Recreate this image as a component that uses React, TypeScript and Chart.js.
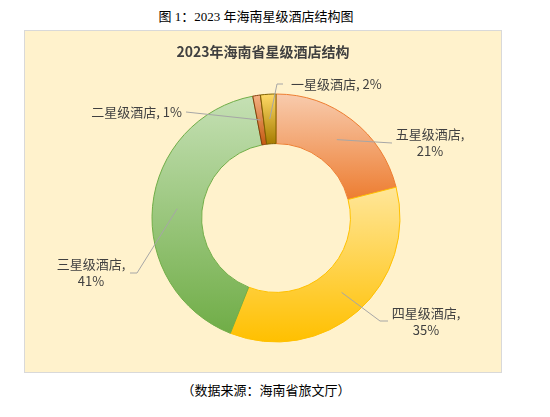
import React, { useEffect, useRef } from "react";
import { Chart, registerables, layouts } from "chart.js";

Chart.register(...registerables);

const chartTitle = "2023年海南省星级酒店结构";
const figureCaption = "图 1：2023 年海南星级酒店结构图";
const sourceCaption = "（数据来源：海南省旅文厅）";

const categories = ["五星级酒店", "四星级酒店", "三星级酒店", "二星级酒店", "一星级酒店"];
const shares = [21, 35, 41, 1, 2];

const lightColors = ["#F8CBAD", "#FFE699", "#C5E0B4", "#F4B183", "#FFD966"];
const darkColors = ["#ED7D31", "#FFC000", "#70AD47", "#C55A11", "#A67C00"];
const borderColors = ["#ED7D31", "#FFC000", "#70AD47", "#843C0C", "#7F6000"];

const PANEL_BG = "#FFF2CC";

// label placement relative to doughnut centre (px)
const labelLayout = [
  { path: [[116, -75]], x: 154, y: -75, align: "center", twoLine: true },
  { path: [[104, 103], [112, 103]], x: 150, y: 103.5, align: "center", twoLine: true },
  { path: [[-139, 55], [-146, 55]], x: -185, y: 54.5, align: "center", twoLine: true },
  { path: [[-90, -106]], x: -94, y: -106, align: "right", twoLine: false },
  { path: [[1, -134], [7, -134]], x: 15, y: -134, align: "left", twoLine: false },
];

const LABEL_FONT = '13px "Noto Sans CJK SC", "Noto Sans", sans-serif';
const TEXT_COLOR = "#404040";

function sliceGradient(ctx: any) {
  const i = ctx.dataIndex ?? 0;
  const chart = ctx.chart;
  const area = chart.chartArea;
  if (!area) return darkColors[i];
  const ctrl: any = chart.getDatasetMeta(0).controller;
  const R = ctrl.outerRadius || Math.min(area.width, area.height) / 2;
  const r = ctrl.innerRadius || R * 0.6;
  const cy = (area.top + area.bottom) / 2 + (ctrl.offsetY || 0);
  const total = shares.reduce((a, b) => a + b, 0);
  let before = 0;
  for (let k = 0; k < i; k++) before += shares[k];
  const s = -Math.PI / 2 + (before / total) * Math.PI * 2;
  const e = s + (shares[i] / total) * Math.PI * 2;
  let minY = Infinity, maxY = -Infinity;
  for (let t = 0; t <= 40; t++) {
    const a = s + ((e - s) * t) / 40;
    for (const rad of [R, r]) {
      const y = cy + Math.sin(a) * rad;
      minY = Math.min(minY, y);
      maxY = Math.max(maxY, y);
    }
  }
  if (!(maxY > minY)) return darkColors[i];
  const g = chart.ctx.createLinearGradient(0, minY, 0, maxY);
  g.addColorStop(0, lightColors[i]);
  g.addColorStop(1, darkColors[i]);
  return g;
}

const spacerPlugin = {
  id: "leftSpacer",
  beforeInit(chart: any) {
    const box: any = {
      position: "left",
      weight: 0,
      fullSize: false,
      options: { stackWeight: 1 },
      left: 0, top: 0, right: 0, bottom: 0, width: 0, height: 0,
      isHorizontal: () => false,
      update(maxWidth: number, maxHeight: number) {
        box.width = 26;
        box.height = maxHeight;
      },
      draw() {},
    };
    layouts.addBox(chart, box);
  },
};

const holePlugin = {
  id: "holeFill",
  beforeDatasetsDraw(chart: any) {
    const meta = chart.getDatasetMeta(0);
    const arc = meta.data[0];
    if (!arc) return;
    const p = arc.getProps(["x", "y", "innerRadius"], true);
    const c = chart.ctx;
    c.save();
    c.fillStyle = PANEL_BG;
    c.beginPath();
    c.arc(p.x, p.y, p.innerRadius, 0, Math.PI * 2);
    c.fill();
    c.restore();
  },
};

const labelPlugin = {
  id: "sliceLabels",
  afterDatasetsDraw(chart: any) {
    const meta = chart.getDatasetMeta(0);
    const c = chart.ctx;
    c.save();
    c.font = LABEL_FONT;
    c.textBaseline = "middle";
    meta.data.forEach((arc: any, i: number) => {
      const p = arc.getProps(["x", "y", "startAngle", "endAngle", "innerRadius", "outerRadius"], true);
      const mid = (p.startAngle + p.endAngle) / 2;
      const rm = (p.innerRadius + p.outerRadius) / 2;
      const L = labelLayout[i];
      c.strokeStyle = "#A6A6A6";
      c.lineWidth = 1;
      c.beginPath();
      c.moveTo(p.x + Math.cos(mid) * rm, p.y + Math.sin(mid) * rm);
      L.path.forEach(([dx, dy]) => c.lineTo(p.x + dx, p.y + dy));
      c.stroke();
      c.fillStyle = TEXT_COLOR;
      c.textAlign = L.align as CanvasTextAlign;
      const tx = p.x + L.x;
      const ty = p.y + L.y;
      const pct = shares[i] + "%";
      if (L.twoLine) {
        c.fillText(categories[i] + ",", tx, ty - 8.5);
        c.fillText(pct, tx, ty + 8.5);
      } else {
        c.fillText(categories[i] + ", " + pct, tx, ty);
      }
    });
    c.restore();
  },
};

function DoughnutChart() {
  const ref = useRef<HTMLCanvasElement | null>(null);
  useEffect(() => {
    if (!ref.current) return;
    const chart = new Chart(ref.current, {
      type: "doughnut",
      data: {
        labels: categories,
        datasets: [
          {
            data: shares,
            backgroundColor: sliceGradient as any,
            borderColor: borderColors,
            borderWidth: 1,
            hoverOffset: 0,
            offset: 0,
          },
        ],
      },
      options: {
        animation: false,
        responsive: true,
        maintainAspectRatio: false,
        events: [],
        cutout: "60%",
        layout: { padding: { top: 0, bottom: 29.5, left: 0, right: 0 } },
        plugins: {
          legend: { display: false },
          tooltip: { enabled: false },
          title: {
            display: true,
            text: chartTitle,
            color: TEXT_COLOR,
            font: { family: '"Noto Sans CJK SC", "Noto Sans", sans-serif', size: 14, weight: "bold" },
            padding: { top: 12.5, bottom: 33.2 },
          },
        },
      },
      plugins: [spacerPlugin, holePlugin, labelPlugin],
    });
    return () => chart.destroy();
  }, []);
  return <canvas ref={ref} />;
}

export default function App() {
  const captionFont = '"Liberation Serif", "Noto Sans CJK SC", serif';
  return (
    <div style={{ position: "absolute", left: 0, top: 0, width: 550, height: 417, background: "#fff" }}>
      <div
        style={{
          position: "absolute", left: 0, top: 7.5, width: 512, textAlign: "center",
          fontFamily: captionFont, fontSize: 13, lineHeight: "17px", color: "#000",
        }}
      >
        {figureCaption}
      </div>
      <div
        style={{
          position: "absolute", left: 24, top: 30, width: 478, height: 343, boxSizing: "border-box",
          border: "1px solid #D9D9D9", background: PANEL_BG,
        }}
      >
        <div style={{ position: "relative", width: 476, height: 341 }}>
          <DoughnutChart />
        </div>
      </div>
      <div
        style={{
          position: "absolute", left: 0, top: 381.5, width: 532, textAlign: "center",
          fontFamily: captionFont, fontSize: 13, lineHeight: "17px", color: "#000",
        }}
      >
        {sourceCaption}
      </div>
    </div>
  );
}
